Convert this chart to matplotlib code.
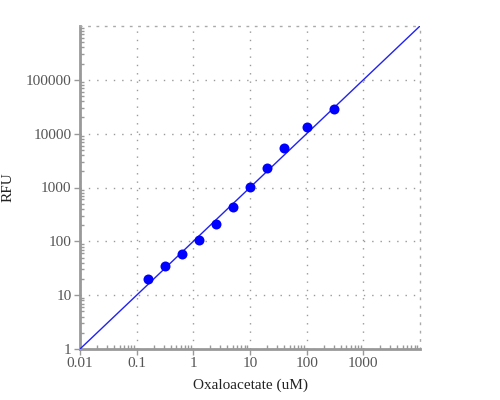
"""Standard curve: RFU vs oxaloacetate concentration, log-log."""
import matplotlib
matplotlib.use("Agg")
import matplotlib.pyplot as plt
from matplotlib.ticker import FixedLocator, FixedFormatter, LogLocator, NullFormatter

# data
conc_um = [0.156, 0.3125, 0.625, 1.25, 2.5, 5, 10, 20, 40, 100, 300]
rfu = [19.6, 34.8, 59, 107, 207, 437, 1020, 2320, 5330, 13300, 29000]

# fitted line (slope 1 on log-log, RFU = 100 * conc)
fit_x = [0.01, 10000]
fit_y = [1, 1000000]

x_ticks = [0.01, 0.1, 1, 10, 100, 1000]
x_labels = ["0.01", "0.1", "1", "10", "100", "1000"]
y_ticks = [1, 10, 100, 1000, 10000, 100000]
y_labels = ["1", "10", "100", "1000", "10000", "100000"]

plt.rcParams["font.family"] = ["Liberation Serif", "DejaVu Serif"]

fig = plt.figure(figsize=(5, 4), dpi=100)
ax = fig.add_axes([0.16, 0.1275, 0.68, 0.8075])

ax.plot(fit_x, fit_y, color="#2222ee", lw=1, zorder=3)
ax.plot(conc_um, rfu, "o", color="#0000ff", ms=7.2, mec="none", zorder=4)

ax.set_xscale("log")
ax.set_yscale("log")
ax.set_xlim(0.01, 10000)
ax.set_ylim(1, 1000000)

ax.xaxis.set_major_locator(FixedLocator(x_ticks))
ax.xaxis.set_major_formatter(FixedFormatter(x_labels))
ax.yaxis.set_major_locator(FixedLocator(y_ticks))
ax.yaxis.set_major_formatter(FixedFormatter(y_labels))
ax.xaxis.set_minor_locator(LogLocator(base=10, subs=range(2, 10), numticks=20))
ax.yaxis.set_minor_locator(LogLocator(base=10, subs=range(2, 10), numticks=20))
ax.xaxis.set_minor_formatter(NullFormatter())
ax.yaxis.set_minor_formatter(NullFormatter())

ax.tick_params(which="major", direction="out", length=4, width=1,
               color="#999999", labelcolor="#555555", labelsize=11, pad=2)
ax.tick_params(which="minor", direction="in", length=3, width=1,
               color="#999999")

ax.grid(which="major", color="#999999", ls=(0, (1, 5)), lw=1)

for side in ("left", "bottom"):
    ax.spines[side].set_color("#999999")
    ax.spines[side].set_linewidth(2)
for side in ("top", "right"):
    ax.spines[side].set_color("#aaaaaa")
    ax.spines[side].set_linewidth(1)
    ax.spines[side].set_linestyle((0, (1, 5)))

ax.set_xlabel("Oxaloacetate (uM)", fontsize=11, color="#222222", labelpad=6)
ax.set_ylabel("RFU", fontsize=11, color="#222222", labelpad=8)

fig.savefig("out.png", dpi=100)
